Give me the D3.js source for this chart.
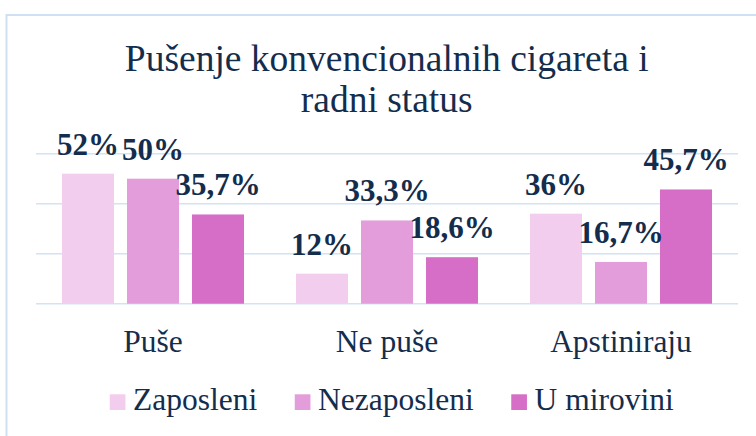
<!DOCTYPE html>
<html>
<head>
<meta charset="utf-8">
<script src="https://cdn.jsdelivr.net/npm/d3@7"></script>
<style>
  body { margin: 0; background: #fff; }
</style>
</head>
<body>
<div id="chart"></div>
<script>
// data
const categories = ['Puše', 'Ne puše', 'Apstiniraju'];
const seriesNames = ['Zaposleni', 'Nezaposleni', 'U mirovini'];
const zaposleni = [52, 12, 36];
const nezaposleni = [50, 33.3, 16.7];
const uMirovini = [35.7, 18.6, 45.7];
const gridTicks = [0, 20, 40, 60];
const titleLines = ['Pušenje konvencionalnih cigareta i', 'radni status'];

const colors = ['#f2cdee', '#e39ddb', '#d66ec8'];
const seriesValues = [zaposleni, nezaposleni, uMirovini];
const serif = '"Liberation Serif"';
const textColor = '#142d4c';

const width = 756, height = 436;

const svg = d3.select('#chart')
    .append('svg')
    .attr('width', width)
    .attr('height', height);

// chart frame (runs off the right and bottom edges)
svg.append('rect')
    .attr('x', 6.5).attr('y', 15)
    .attr('width', 800).attr('height', 500)
    .attr('fill', 'none')
    .attr('stroke', '#cfe0f3')
    .attr('stroke-width', 2);

const y = d3.scaleLinear().domain([0, 60]).range([303.7, 153.7]);
const x0 = d3.scaleBand().domain(categories).range([36, 738]);
const x1 = d3.scaleBand().domain(seriesNames).range([26, 208]).paddingInner(0.2);

// gridlines
svg.append('g')
    .selectAll('line')
    .data(gridTicks)
    .enter().append('line')
    .attr('x1', 36).attr('x2', 738)
    .attr('y1', d => y(d)).attr('y2', d => y(d))
    .attr('stroke', '#d2e3f4')
    .attr('stroke-width', 1.6);

// title
svg.append('g')
    .selectAll('text')
    .data(titleLines)
    .enter().append('text')
    .attr('x', 386.7)
    .attr('y', (d, i) => 70.7 + i * 41)
    .attr('text-anchor', 'middle')
    .style('font-family', serif)
    .style('font-size', '37.5px')
    .style('fill', textColor)
    .text(d => d);

// bars
const rows = [];
categories.forEach((c, ci) => {
    seriesNames.forEach((s, si) => {
        rows.push({ cat: c, series: s, si: si, value: seriesValues[si][ci] });
    });
});

svg.append('g')
    .selectAll('rect')
    .data(rows)
    .enter().append('rect')
    .attr('x', d => x0(d.cat) + x1(d.series))
    .attr('y', d => y(d.value))
    .attr('width', x1.bandwidth())
    .attr('height', d => y(0) - y(d.value))
    .attr('fill', d => colors[d.si]);

// value labels
svg.append('g')
    .selectAll('text')
    .data(rows)
    .enter().append('text')
    .attr('x', d => x0(d.cat) + x1(d.series) + x1.bandwidth() / 2)
    .attr('y', d => y(d.value) - 19)
    .attr('text-anchor', 'middle')
    .style('font-family', serif)
    .style('font-size', '31px')
    .style('font-weight', 'bold')
    .style('fill', textColor)
    .text(d => String(d.value).replace('.', ',') + '%');

// category labels
svg.append('g')
    .selectAll('text')
    .data(categories)
    .enter().append('text')
    .attr('x', d => x0(d) + x0.bandwidth() / 2)
    .attr('y', 352.3)
    .attr('text-anchor', 'middle')
    .style('font-family', serif)
    .style('font-size', '31.5px')
    .style('fill', textColor)
    .text(d => d);

// legend
const legend = svg.append('g');
const sw = 15.7, gapText = 7.6, gapItem = 37.5;
let lx = 0;
const items = [];
seriesNames.forEach((s, i) => {
    const g = legend.append('g');
    g.append('rect')
        .attr('x', 0).attr('y', 394.3)
        .attr('width', sw).attr('height', sw)
        .attr('fill', colors[i]);
    const t = g.append('text')
        .attr('x', sw + gapText)
        .attr('y', 410)
        .style('font-family', serif)
        .style('font-size', '31.5px')
        .style('fill', textColor)
        .text(s);
    const w = sw + gapText + t.node().getComputedTextLength();
    items.push({ g: g, x: lx });
    lx += w + gapItem;
});
const totalW = lx - gapItem;
const startX = 391.7 - totalW / 2;
items.forEach(it => it.g.attr('transform', `translate(${startX + it.x},0)`));
</script>
</body>
</html>
